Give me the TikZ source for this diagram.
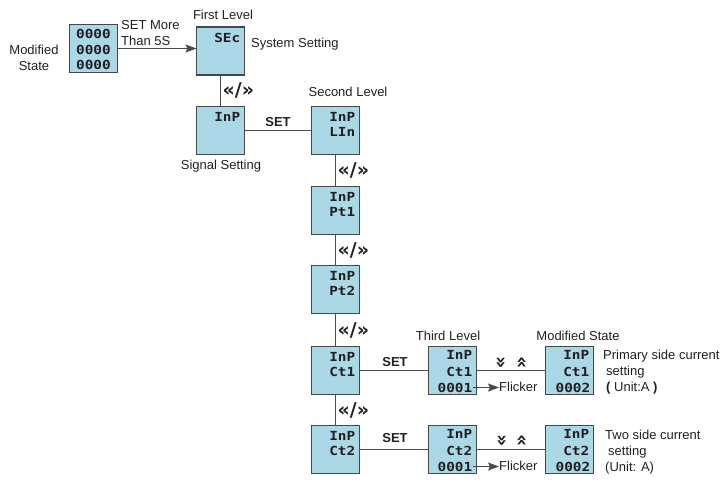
\documentclass[tikz,border=0pt]{standalone}
\usepackage{fontspec}
\setmainfont{Liberation Sans}
\newfontfamily\segfont[FakeStretch=1.15]{DejaVu Sans Mono}
\newfontfamily\chevfont{DejaVu Sans}
\usetikzlibrary{calc,arrows.meta}
\definecolor{lcd}{RGB}{170,216,230}
\definecolor{edgec}{RGB}{70,70,70}
\definecolor{wirec}{RGB}{75,75,75}
\definecolor{ink}{RGB}{35,31,32}
\tikzset{
 lcdbox/.style={draw=edgec,fill=lcd,line width=1.2pt,minimum width=48pt,minimum height=48pt,inner sep=0pt,outer sep=0pt},
 seg/.style={font=\fontsize{12.5}{12.5}\selectfont\segfont\bfseries,text=ink,inner sep=0pt,anchor=east},
 segc/.style={seg,anchor=center},
 lbl/.style={font=\fontsize{13}{16}\selectfont,text=ink,inner sep=0pt},
 setlbl/.style={font=\fontsize{13}{13}\selectfont\bfseries,text=ink,inner sep=0pt},
 chev/.style={font=\fontsize{19}{19}\selectfont\chevfont\bfseries,text=ink,inner sep=0pt},
 wire/.style={draw=wirec,line width=1.3pt},
 arr/.style={wire,-{Stealth[length=11pt,width=8pt,inset=2pt]}},
}
\begin{document}
\begin{tikzpicture}[x=1pt,y=-1pt]
\useasboundingbox (0,0) rectangle (725,479);
% boxes
\node[lcdbox] (ms) at (93.5,48.5) {};
\node[lcdbox] (sec) at (220.5,51) {};
\node[lcdbox] (inp) at (220.5,130.5) {};
\node[lcdbox] (lin) at (335.5,130.5) {};
\node[lcdbox] (pt1) at (335.5,210.5) {};
\node[lcdbox] (pt2) at (335.5,289.5) {};
\node[lcdbox] (ct1) at (335.5,370.5) {};
\node[lcdbox] (ct2) at (335.5,449.5) {};
\node[lcdbox] (t1) at (452.5,370.5) {};
\node[lcdbox] (t2) at (452.5,449.5) {};
\node[lcdbox] (m1) at (569.5,370.5) {};
\node[lcdbox] (m2) at (569.5,449.5) {};
% display texts
\node[segc] (msa) at ($(ms.north)+(0,9)$) {0000};
\node[segc] (msb) at ($(ms.north)+(0,25)$) {0000};
\node[segc] (msc) at ($(ms.north)+(0,40)$) {0000};
\node[seg] (seca) at ($(sec.north east)+(-4,11)$) {SEc};
\node[seg] (inpa) at ($(inp.north east)+(-4,10)$) {InP};
\node[seg] (lina) at ($(lin.north east)+(-4,10)$) {InP};
\node[seg] (linb) at ($(lin.north east)+(-4,25)$) {LIn};
\node[seg] (pt1a) at ($(pt1.north east)+(-4,10)$) {InP};
\node[seg] (pt1b) at ($(pt1.north east)+(-4,25)$) {Pt1};
\node[seg] (pt2a) at ($(pt2.north east)+(-4,10)$) {InP};
\node[seg] (pt2b) at ($(pt2.north east)+(-4,25)$) {Pt2};
\node[seg] (ct1a) at ($(ct1.north east)+(-4,10)$) {InP};
\node[seg] (ct1b) at ($(ct1.north east)+(-4,25)$) {Ct1};
\node[seg] (ct2a) at ($(ct2.north east)+(-4,10)$) {InP};
\node[seg] (ct2b) at ($(ct2.north east)+(-4,25)$) {Ct2};
\node[seg] (t1a) at ($(t1.north east)+(-4,8)$) {InP};
\node[seg] (t1b) at ($(t1.north east)+(-4,25)$) {Ct1};
\node[seg] (t1c) at ($(t1.north east)+(-4,41)$) {0001};
\node[seg] (t2a) at ($(t2.north east)+(-4,8)$) {InP};
\node[seg] (t2b) at ($(t2.north east)+(-4,25)$) {Ct2};
\node[seg] (t2c) at ($(t2.north east)+(-4,41)$) {0001};
\node[seg] (m1a) at ($(m1.north east)+(-4,8)$) {InP};
\node[seg] (m1b) at ($(m1.north east)+(-4,25)$) {Ct1};
\node[seg] (m1c) at ($(m1.north east)+(-3,41)$) {0002};
\node[seg] (m2a) at ($(m2.north east)+(-4,8)$) {InP};
\node[seg] (m2b) at ($(m2.north east)+(-4,25)$) {Ct2};
\node[seg] (m2c) at ($(m2.north east)+(-3,41)$) {0002};
% connectors
\draw[arr] (ms.east) -- (ms.east -| sec.west);
\draw[wire] (sec) -- (inp);
\draw[wire] (inp) -- (lin);
\draw[wire] (lin) -- (pt1);
\draw[wire] (pt1) -- (pt2);
\draw[wire] (pt2) -- (ct1);
\draw[wire] (ct1) -- (ct2);
\draw[wire] (ct1) -- (t1);
\draw[wire] (t1) -- (m1);
\draw[wire] (ct2) -- (t2);
\draw[wire] (t2) -- (m2);
% flicker
\node[lbl,anchor=west] (fl1) at (499,387) {Flicker};
\node[lbl,anchor=west] (fl2) at (499,466) {Flicker};
\draw[arr] (t1c.east) -- (t1c.east -| fl1.west);
\draw[arr] (t2c.east) -- (t2c.east -| fl2.west);
% chevron labels
\node[chev,anchor=west] (cv1) at ($(sec.south)!0.5!(inp.north)+(2,0)$) {«/»};
\node[chev,anchor=west] (cv2) at ($(lin.south)!0.5!(pt1.north)+(2,0)$) {«/»};
\node[chev,anchor=west] (cv3) at ($(pt1.south)!0.5!(pt2.north)+(2,0)$) {«/»};
\node[chev,anchor=west] (cv4) at ($(pt2.south)!0.5!(ct1.north)+(2,0)$) {«/»};
\node[chev,anchor=west] (cv5) at ($(ct1.south)!0.5!(ct2.north)+(2,0)$) {«/»};
\node[chev,rotate=-90] (dn1) at (500,363) {»};
\node[chev,rotate=-90] (up1) at (521,363) {«};
\node[chev,rotate=-90] (dn2) at (501,441) {»};
\node[chev,rotate=-90] (up2) at (521,441) {«};
% SET labels
\node[setlbl] (set1) at (278,122) {SET};
\node[setlbl] (set2) at (395,362) {SET};
\node[setlbl] (set3) at (395,438) {SET};
% text labels
\node[lbl,align=center] (modst) at (34,58) {Modified\\State};
\node[lbl,anchor=west,align=left] (setmore) at (121,33) {SET More\\Than 5S};
\node[lbl] (firstlvl) at (223,15) {First Level};
\node[lbl,anchor=west] (sysset) at (251,44) {System Setting};
\node[lbl] (sigset) at (221,166) {Signal Setting};
\node[lbl] (seclvl) at (348,92) {Second Level};
\node[lbl] (thirdlvl) at (448,336) {Third Level};
\node[lbl] (modst2) at (578,336) {Modified State};
\node[lbl,anchor=west,align=left] (prim) at (603,372) {Primary side current\\\hspace{3pt}setting\\\hspace{3pt}{\bfseries(} Unit:A {\bfseries)}};
\node[lbl,anchor=west,align=left] (twos) at (605,452) {Two side current\\\hspace{3pt}setting\\(Unit: A)};
\end{tikzpicture}
\end{document}
